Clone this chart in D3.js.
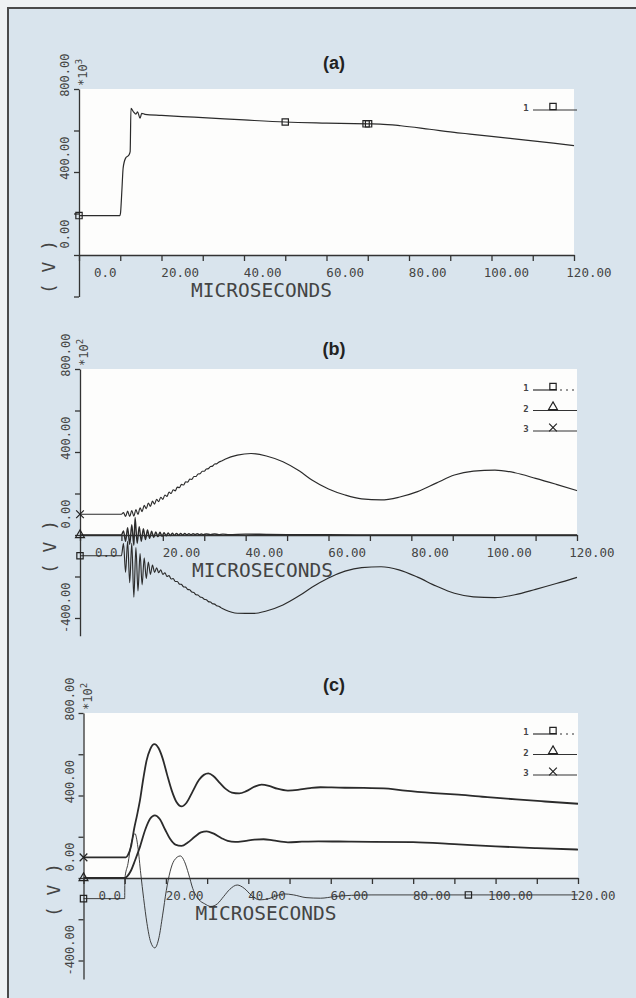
<!DOCTYPE html>
<html>
<head>
<meta charset="utf-8">
<script src="https://cdn.jsdelivr.net/npm/d3@7"></script>
<style>
  html, body { margin: 0; padding: 0; background: #eef1f3; }
  svg { display: block; }
  text { font-family: "DejaVu Sans Mono", monospace; fill: #444; }
  .title { font-family: "Liberation Sans", Arial, sans-serif; font-weight: bold; fill: #222; }
</style>
</head>
<body>
<svg id="chart" width="636" height="998"></svg>
<script>
// EMTP style plots, voltage vs time (microseconds)
// each series is a list of [time (us), value]

// x axis
const xTickValues = [0, 10, 20, 30, 40, 50, 60, 70, 80, 90, 100, 110, 120];
const xLabelValues = [0, 20, 40, 60, 80, 100, 120];
const xLabelText = ['0.0', '20.00', '40.00', '60.00', '80.00', '100.00', '120.00'];

// y axis
const yTickValues = [-400, -200, 0, 200, 400, 600, 800];
const yLabelValues = [-400, 0, 400, 800];
const yLabelText = ['-400.00', '0.00', '400.00', '800.00'];

// (a) single trace, *10^3 V
const seriesA1 = [
  [0, 190], [9.9, 190], [10.05, 200], [10.4, 313], [10.7, 419], [11.3, 467], [12.1, 482],
  [12.4, 498], [12.6, 707], [13.2, 690], [13.8, 679], [14.2, 690], [14.8, 659], [15.2, 683],
  [16, 678], [20, 673], [25, 667], [30, 662], [40, 651], [50, 641], [60, 636], [70, 632],
  [73, 631], [78, 623], [85, 606], [91.8, 589], [94.8, 583], [100, 572], [105, 561],
  [110, 550], [115, 539], [120, 527]
];
const markersA = [[0, 190, 'sq'], [50, 641, 'sq'], [69.6, 632, 'sq'], [70.2, 632, 'sq']];

// (b) three traces, *10^2 V
const seriesB3 = [
  [0, 100], [10, 100], [10.5, 108], [11, 89], [11.5, 115], [12, 89], [12.5, 118], [13, 91],
  [13.5, 122], [14, 99], [14.5, 131], [15, 113], [15.5, 143], [16, 127], [16.5, 154], [17, 138],
  [17.5, 163], [18, 149], [18.5, 172], [19, 161], [19.5, 182], [20, 172], [20.5, 193], [21, 186],
  [21.5, 207], [22, 200], [22.5, 218], [23, 213], [23.5, 231], [24, 228], [24.5, 244], [25, 241],
  [25.5, 256], [26, 255], [26.5, 269], [27, 268], [27.5, 282], [28, 282], [28.5, 294], [29, 295],
  [29.5, 307], [30, 307], [30.5, 318], [31, 320], [31.5, 330], [32, 332], [32.5, 342], [33, 343],
  [33.5, 351], [34, 355], [35, 365], [38, 385], [41.3, 393], [45, 381], [49, 353], [53, 308],
  [56, 265], [60, 222], [64, 193], [68, 174], [72.7, 169], [77, 182], [81.5, 209], [86, 250],
  [90.4, 289], [95, 308], [100.2, 313], [105, 300], [110, 273], [115, 244], [120, 214]
];
const seriesB2 = [
  [0, 0], [10, 0], [10.5, 20], [11, -30], [11.5, 35], [12, -45], [12.5, 50], [13, -50],
  [13.3, 85], [13.8, -40], [14.3, 40], [14.8, -30], [15.3, 30], [15.8, -22], [16.3, 24],
  [16.8, -16], [17.3, 18], [17.8, -12], [18.3, 15], [18.8, -8], [19.3, 13], [19.8, -6],
  [20.3, 11], [20.8, -4], [21.3, 10], [21.8, -3], [22.3, 9], [22.8, -2], [23.3, 8], [23.8, -1],
  [24.3, 7], [24.8, 0], [25.3, 7], [25.8, 1], [26.3, 6], [26.8, 1], [27.3, 6], [27.8, 2],
  [28.3, 6], [28.8, 2], [29.3, 5], [29.8, 2], [30.5, 5], [31.5, 2], [32.5, 5], [33.5, 2],
  [34.5, 4], [36, 2], [40, 4], [45, 3], [50, 2], [60, 1], [70, 0], [120, 0]
];
const seriesB1 = [
  [0, -100], [10, -100], [10.5, -40], [11, -180], [11.5, -30], [12, -230], [12.5, -40],
  [13, -300], [13.5, -60], [14, -270], [14.5, -90], [15, -240], [15.5, -110], [16, -210],
  [16.5, -130], [17, -190], [17.5, -145], [18, -180], [18.5, -158], [19, -182], [19.5, -168],
  [20, -190], [20.5, -182], [21, -200], [21.5, -196], [22, -212], [22.5, -210], [23, -224],
  [23.5, -224], [24, -237], [24.5, -238], [25, -250], [25.5, -251], [26, -262], [26.5, -264],
  [27, -275], [27.5, -277], [28, -288], [28.5, -289], [29, -299], [29.5, -301], [30, -310],
  [30.5, -312], [31, -321], [31.5, -323], [32, -331], [32.5, -333], [33, -341], [33.5, -343],
  [34, -350], [35, -360], [38, -377], [42, -378], [45, -366], [49, -337], [53, -292],
  [56, -252], [60, -207], [64, -174], [68, -157], [72.7, -153], [77, -168], [81.5, -203],
  [86, -246], [90.4, -281], [95, -298], [100.2, -302], [105, -288], [110, -262], [115, -234],
  [120, -204]
];
const markersB = [[0, 100, 'x'], [0, 0, 'tri'], [0, -100, 'sq']];

// (c) three traces, *10^2 V
const seriesC3 = [
  [0, 100], [10.3, 100], [10.8, 112], [11.5, 150], [12.3, 240], [13, 305], [13.7, 376],
  [14.5, 480], [15.3, 569], [16.2, 625], [17.2, 649], [18.2, 630], [19.2, 580], [20.3, 500],
  [21.4, 425], [22.6, 367], [23.8, 347], [25, 365], [26.5, 420], [28, 475], [29.2, 500],
  [30.3, 507], [31.5, 495], [33, 463], [34.5, 432], [36, 414], [37.8, 410], [39.5, 421],
  [41.5, 443], [43.2, 453], [45, 447], [47, 433], [49.6, 424], [52, 427], [55, 436],
  [57.5, 440], [62, 438], [68, 437], [74, 433], [78, 424], [85, 412], [91, 404], [98, 392],
  [105, 381], [112, 371], [120, 360]
];
const seriesC2 = [
  [0, 0], [10, 0], [10.6, 8], [11.5, 35], [12.5, 85], [13.7, 151], [15, 235], [16.2, 288],
  [17.3, 304], [18.5, 286], [19.8, 235], [21, 190], [22.3, 162], [23.8, 156], [25.3, 172],
  [27, 200], [28.5, 221], [29.9, 226], [31.5, 216], [33.5, 193], [35, 180], [36.8, 175],
  [39, 179], [41.5, 186], [43.7, 188], [46, 182], [49.6, 173], [53, 176], [57, 178],
  [65, 176], [80, 174], [90, 164], [100, 153], [110, 145], [120, 138]
];
const seriesC1 = [
  [0, -100], [10, -100], [10.03, -5], [10.8, 70], [11.6, 170], [12.5, 215], [13.2, 150],
  [13.9, 20], [14.6, -100], [15.4, -220], [16.3, -310], [17.3, -339], [18.3, -290],
  [19.2, -180], [20.1, -60], [21, 30], [22, 85], [23.5, 107], [24.5, 80], [25.5, 20],
  [26.5, -50], [28, -105], [29.4, -125], [30.9, -138], [32.5, -125], [34, -90], [35.5, -55],
  [37.3, -34], [39, -50], [40.8, -85], [42.7, -106], [45, -100], [47, -85], [48.6, -77],
  [51, -82], [54, -95], [57.5, -98], [61, -90], [65, -84], [70, -82], [120, -82]
];
const markersC = [[0, 100, 'x'], [0, 0, 'tri'], [0, -100, 'sq'], [93.4, -82, 'sq']];

const legendA = [['1', 'sq', false]];
const legendBC = [['1', 'sq', true], ['2', 'tri', false], ['3', 'x', false]];

const width = 636;
const height = 998;
const svg = d3.select('#chart');

// scanned page: light blue card with a dark frame on the left and top
svg.append('rect').attr('width', width).attr('height', height).attr('fill', '#eef1f3');
svg.append('rect').attr('x', 8).attr('y', 8).attr('width', width + 10).attr('height', height + 10).attr('fill', '#d9e4ed');
svg.append('path')
  .attr('d', `M8,${height + 5} L8,8 L${width + 5},8`)
  .attr('fill', 'none')
  .attr('stroke', '#4a4a4a')
  .attr('stroke-width', 2);

const panels = [
  { title: '(a)', titleY: 69, left: 79, right: 574, top: 89, zero: 255, yMin: -200, exp: '3',
    series: [{ data: seriesA1, w: 1.2 }], markers: markersA, legend: legendA },
  { title: '(b)', titleY: 355, left: 80, right: 577, top: 369, zero: 535, yMin: -485, exp: '2',
    series: [{ data: seriesB3, w: 1.15 }, { data: seriesB2, w: 1.4 }, { data: seriesB1, w: 1.15 }],
    markers: markersB, legend: legendBC },
  { title: '(c)', titleY: 691, left: 83.5, right: 578, top: 713, zero: 878, yMin: -490, exp: '2',
    series: [{ data: seriesC3, w: 1.8 }, { data: seriesC2, w: 1.8 }, { data: seriesC1, w: 0.9 }],
    markers: markersC, legend: legendBC },
];

function markerPath(type) {
  if (type === 'sq') return d3.symbol(d3.symbolSquare, 40)();
  if (type === 'tri') return d3.symbol(d3.symbolTriangle, 34)();
  return d3.symbol(d3.symbolX, 40)();
}

function drawPanel(p) {
  const g = svg.append('g');
  const x = d3.scaleLinear().domain([0, 120]).range([p.left, p.right]);
  const y = d3.scaleLinear().domain([0, 800]).range([p.zero, p.top]);

  // white plotting paper
  g.append('rect')
    .attr('x', x(0)).attr('y', y(800))
    .attr('width', x(120) - x(0)).attr('height', y(0) - y(800))
    .attr('fill', '#fdfdfc');

  g.append('text').attr('class', 'title')
    .attr('x', 334).attr('y', p.titleY)
    .attr('text-anchor', 'middle').attr('font-size', 18)
    .text(p.title);

  // x axis, labels sit right-aligned to the right of their tick
  const gx = g.append('g')
    .attr('transform', `translate(0,${y(0)})`)
    .call(d3.axisBottom(x).tickValues(xTickValues).tickSize(6).tickSizeOuter(0)
      .tickFormat(d => {
        const i = xLabelValues.indexOf(d);
        return i < 0 ? '' : xLabelText[i];
      }));
  gx.attr('font-family', null).attr('font-size', 12.5);
  gx.selectAll('.tick text').attr('text-anchor', 'end').attr('x', 37).attr('y', 22).attr('dy', 0).attr('fill', '#444');

  // y axis, rotated labels
  const yAx = y.copy().domain([p.yMin, 800]).range([y(p.yMin), y(800)]);
  const gy = g.append('g')
    .attr('transform', `translate(${x(0)},0)`)
    .call(d3.axisLeft(yAx).tickValues(yTickValues.filter(v => v >= p.yMin)).tickSize(5).tickSizeOuter(0)
      .tickFormat(d => {
        const i = yLabelValues.indexOf(d);
        return i < 0 ? '' : yLabelText[i];
      }));
  gy.attr('font-family', null).attr('font-size', 12);
  gy.selectAll('.tick text')
    .attr('x', 0).attr('dy', 0)
    .attr('text-anchor', 'end')
    .attr('transform', 'translate(-10,-36) rotate(-90)')
    .attr('fill', '#444');

  [gx, gy].forEach(a => {
    a.selectAll('path, line').attr('stroke', '#333').attr('stroke-width', 1.3);
  });

  // *10^n multiplier
  const ex = g.append('text')
    .attr('transform', `translate(${x(0) + 8},${y(800) - 3}) rotate(-90)`)
    .attr('font-size', 12);
  ex.append('tspan').text('*10');
  ex.append('tspan').attr('dy', -5).attr('font-size', 9).text(p.exp);

  g.append('text')
    .attr('transform', `translate(${x(0) - 24},${y(0) + 12}) rotate(-90)`)
    .attr('text-anchor', 'middle').attr('font-size', 18)
    .text('( V )');

  g.append('text')
    .attr('x', x(0) + 112).attr('y', y(0) + 42)
    .attr('font-size', 19.5)
    .text('MICROSECONDS');

  const line = d3.line()
    .x(d => x(d[0]))
    .y(d => y(d[1]))
    .curve(d3.curveMonotoneX);

  p.series.forEach(s => {
    g.append('path')
      .attr('d', line(s.data))
      .attr('fill', 'none')
      .attr('stroke', '#2b2b2b')
      .attr('stroke-width', s.w)
      .attr('stroke-linejoin', 'round');
  });

  g.selectAll('.mark')
    .data(p.markers)
    .join('path')
    .attr('transform', d => `translate(${x(d[0])},${y(d[1])})`)
    .attr('d', d => markerPath(d[2]))
    .attr('fill', 'none')
    .attr('stroke', '#222')
    .attr('stroke-width', 1.2);

  // legend
  p.legend.forEach((e, i) => {
    const ly = y(800) + 21 + i * 20.5;
    g.append('text').attr('x', 526).attr('y', ly + 1)
      .attr('font-size', 9).attr('font-weight', 'bold').attr('text-anchor', 'middle').text(e[0]);
    g.append('line').attr('x1', 533).attr('x2', e[2] ? 557 : 577).attr('y1', ly).attr('y2', ly)
      .attr('stroke', '#333').attr('stroke-width', 1.2);
    if (e[2]) {
      g.append('line').attr('x1', 560).attr('x2', 577).attr('y1', ly).attr('y2', ly)
        .attr('stroke', '#333').attr('stroke-width', 1.2).attr('stroke-dasharray', '2,4');
    }
    g.append('path')
      .attr('transform', `translate(553,${ly - 3.5})`)
      .attr('d', markerPath(e[1]))
      .attr('fill', 'none').attr('stroke', '#222').attr('stroke-width', 1.2);
  });
}

panels.forEach(drawPanel);
</script>
</body>
</html>
